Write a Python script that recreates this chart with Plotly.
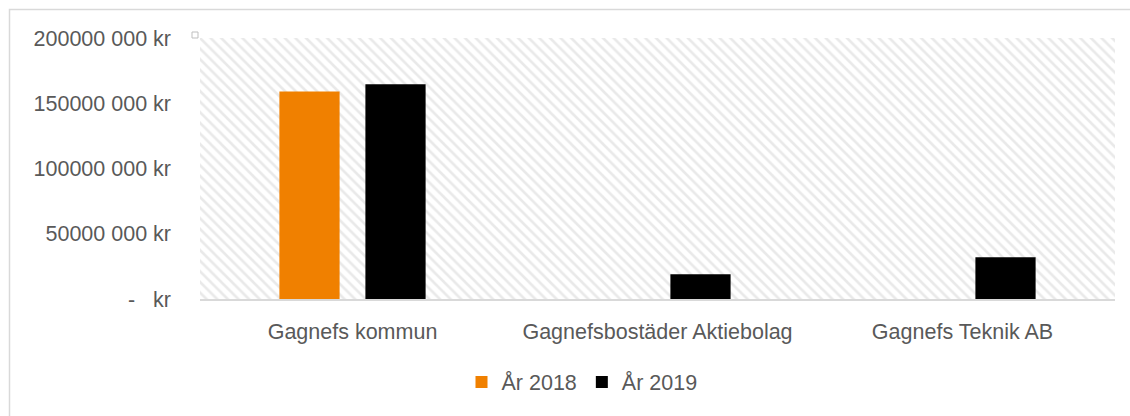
import plotly.graph_objects as go

categories = ["Gagnefs kommun", "Gagnefsbostäder Aktiebolag", "Gagnefs Teknik AB"]
series_names = ["År 2018", "År 2019"]
values_2018 = [159_000_000, None, None]
values_2019 = [164_500_000, 19_000_000, 32_000_000]
series_colors = ["#F08000", "#000000"]
tick_vals = [0, 50_000_000, 100_000_000, 150_000_000, 200_000_000]
tick_text = ["-\u00a0\u00a0\u00a0kr", "50000 000 kr", "100000 000 kr", "150000 000 kr", "200000 000 kr"]

FONT = "Liberation Sans, Arial, sans-serif"
GREY = "#595959"

fig = go.Figure()

# hatched plot-area background on base axes
fig.add_trace(go.Bar(
    x=[0.5], y=[1], width=[1], xaxis="x", yaxis="y",
    marker=dict(color="white", line=dict(width=0),
                pattern=dict(shape="\\", fgcolor="#d4d4d4", bgcolor="white",
                             size=7.5, solidity=0.35)),
    showlegend=False, hoverinfo="skip",
))

for name, vals, col in zip(series_names, [values_2018, values_2019], series_colors):
    fig.add_trace(go.Bar(
        x=categories, y=vals, name=name, xaxis="x2", yaxis="y2",
        marker=dict(color=col, line=dict(width=0)),
    ))

L, R, T, B = 200, 15, 38, 117
W, H = 1130, 416
pw, ph = W - L - R, H - T - B

def px_x(p):
    return (p - L) / pw

def px_y(p):
    return (H - B - p) / ph

fig.update_layout(
    width=W, height=H,
    margin=dict(l=L, r=R, t=T, b=B),
    paper_bgcolor="white", plot_bgcolor="white",
    barmode="group", bargap=0.436, bargroupgap=0.30,
    font=dict(family=FONT, color=GREY, size=21),
    xaxis=dict(range=[0, 1], visible=False, fixedrange=True),
    yaxis=dict(range=[0, 1], visible=False, fixedrange=True),
    xaxis2=dict(overlaying="x", anchor="y2", type="category",
                showgrid=False, showline=True, linecolor="#d9d9d9", linewidth=2,
                ticks="", ticklabelstandoff=12,
                tickfont=dict(size=21.5, color=GREY, family=FONT)),
    yaxis2=dict(overlaying="y", anchor="x2", range=[0, 200_000_000],
                tickvals=tick_vals, ticktext=tick_text,
                showgrid=False, zeroline=False, showline=False, ticks="",
                ticklabelstandoff=28,
                tickfont=dict(size=21.5, color=GREY, family=FONT)),
    legend=dict(orientation="h", x=px_x(582), xanchor="center", y=px_y(382), yanchor="middle",
                font=dict(size=21.5, color=GREY, family=FONT), itemwidth=30,
                bgcolor="rgba(0,0,0,0)"),
    shapes=[
        dict(type="rect", xref="paper", yref="paper",
             x0=px_x(9.5), x1=px_x(1140), y0=px_y(430), y1=px_y(9.5),
             line=dict(color="#d9d9d9", width=1.5), fillcolor="rgba(0,0,0,0)", layer="below"),
        dict(type="rect", xref="paper", yref="paper",
             x0=px_x(192), x1=px_x(198), y0=px_y(38), y1=px_y(32),
             line=dict(color="#bfbfbf", width=1), fillcolor="white"),
    ],
)

fig.write_html("out.html", config={"displayModeBar": False},
               post_script="document.body.style.margin='0';document.body.style.overflow='hidden';")
